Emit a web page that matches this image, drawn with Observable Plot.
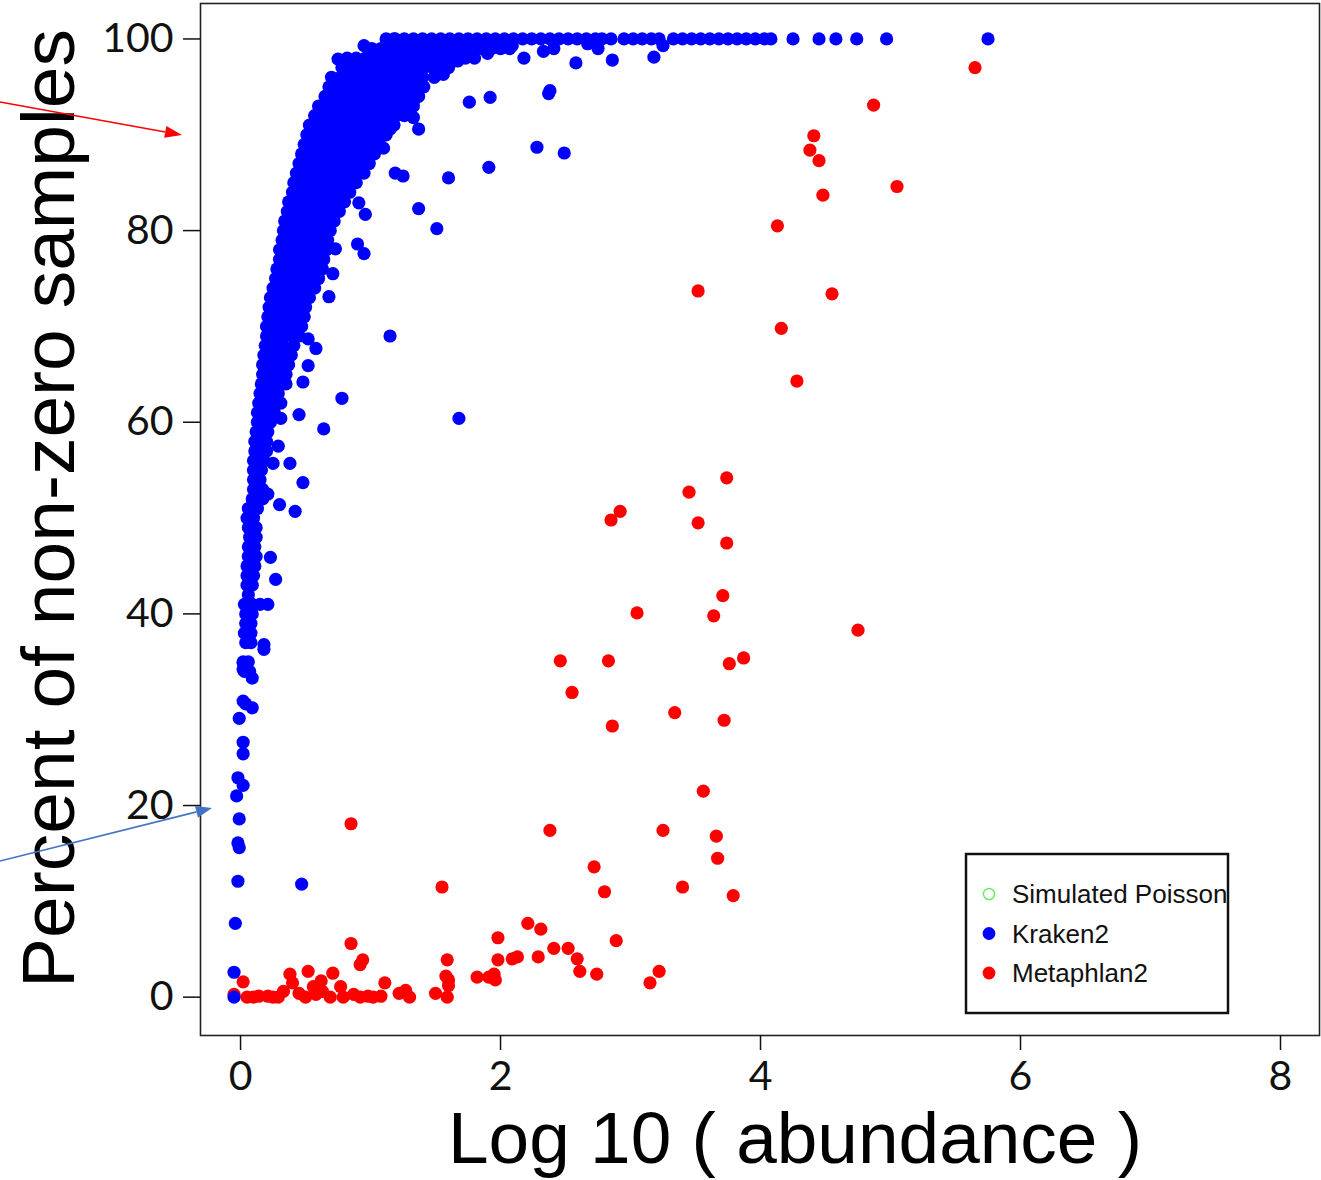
<!DOCTYPE html>
<html><head><meta charset="utf-8">
<script src="https://cdn.jsdelivr.net/npm/d3@7"></script>
<script src="https://cdn.jsdelivr.net/npm/@observablehq/plot@0.6"></script>
<style>
html,body{margin:0;padding:0;background:#fff;}
#wrap{position:relative;width:1321px;height:1180px;overflow:hidden;background:#fff;}
#wrap svg.overlay{position:absolute;left:0;top:0;pointer-events:none;}
</style></head><body><div id="wrap"></div>
<script>
// ---------- chart values ----------
const xTicks = [0, 2, 4, 6, 8];
const yTicks = [0, 20, 40, 60, 80, 100];
const xTitle = "Log 10 ( abundance )";
const yTitle = "Percent of non-zero samples";
const legendLabels = ["Simulated Poisson", "Kraken2", "Metaphlan2"];
const legendColors = ["#66ee66", "#0000ff", "#ff0000"];

// Kraken2: points lying on the 100 % line (x = log10 abundance)
const krakenTopRowX = [1.12,1.19,1.26,1.33,1.4,1.47,1.54,1.61,1.68,1.75,1.82,1.89,1.96,2.03,2.1,2.17,2.24,2.31,2.38,2.45,2.52,2.59,2.66,2.73,2.78,2.85,2.95,3.02,3.09,3.16,3.22,3.33,3.4,3.47,3.54,3.61,3.68,3.75,3.82,3.89,3.96,4.03,4.08,4.25,4.45,4.58,4.74,4.97,5.75];

// Kraken2: dense cloud, read row by row [percent, [log10 abundance ...]]
const krakenRows = [
[99,[1.01,1.08,1.15,1.22,1.29,1.36,1.43,1.5,1.57,1.64,1.71,1.79,1.86,1.93,2.0,2.07]],
[98,[0.82,0.89,0.96,1.03,1.1,1.17,1.24,1.31,1.38,1.45,1.52,1.59,1.66,1.73,1.8]],
[97,[0.78,0.85,0.92,0.99,1.06,1.13,1.2,1.27,1.34,1.41,1.48,1.54,1.6]],
[96,[0.7,0.77,0.84,0.91,0.98,1.05,1.12,1.19,1.26,1.33,1.4,1.49]],
[95,[0.68,0.75,0.82,0.89,0.96,1.03,1.1,1.17,1.24,1.31,1.36,1.41]],
[94,[0.65,0.72,0.79,0.86,0.93,1.0,1.07,1.14,1.21,1.28,1.33,1.37]],
[93,[0.6,0.67,0.74,0.81,0.88,0.95,1.02,1.09,1.16,1.23,1.28,1.33]],
[92,[0.57,0.64,0.71,0.78,0.85,0.92,0.99,1.06,1.13,1.2,1.26]],
[91,[0.53,0.6,0.67,0.74,0.81,0.88,0.95,1.02,1.09,1.14,1.18]],
[90,[0.51,0.58,0.65,0.72,0.79,0.86,0.93,1.0,1.06,1.12]],
[89,[0.49,0.56,0.63,0.7,0.77,0.84,0.91,0.97,1.02,1.07]],
[88,[0.47,0.54,0.61,0.68,0.75,0.82,0.89,0.96,1.03]],
[87,[0.45,0.52,0.59,0.66,0.73,0.8,0.87,0.93,0.99]],
[86,[0.43,0.5,0.57,0.64,0.71,0.78,0.85,0.91,0.95]],
[85,[0.41,0.48,0.55,0.62,0.69,0.76,0.83,0.89]],
[84,[0.4,0.47,0.54,0.61,0.68,0.75,0.8,0.84]],
[83,[0.37,0.44,0.51,0.58,0.65,0.72,0.8]],
[82,[0.36,0.43,0.5,0.57,0.64,0.7,0.76]],
[81,[0.34,0.41,0.48,0.55,0.62,0.67,0.72]],
[80,[0.33,0.4,0.47,0.54,0.61,0.69]],
[79,[0.32,0.39,0.46,0.53,0.6,0.67]],
[78,[0.3,0.37,0.44,0.51,0.58,0.66]],
[77,[0.3,0.37,0.44,0.51,0.58,0.64]],
[76,[0.28,0.35,0.42,0.49,0.56,0.63]],
[75,[0.27,0.34,0.41,0.48,0.54,0.6]],
[74,[0.25,0.32,0.39,0.46,0.52,0.57]],
[73,[0.23,0.3,0.37,0.44,0.49,0.53]],
[72,[0.22,0.29,0.36,0.43,0.5]],
[71,[0.21,0.28,0.35,0.42,0.49]],
[70,[0.2,0.27,0.34,0.41,0.47]],
[69,[0.2,0.27,0.34,0.4,0.45]],
[68,[0.19,0.26,0.33,0.41]],
[67,[0.18,0.25,0.32,0.39]],
[66,[0.17,0.24,0.31,0.37]],
[65,[0.17,0.24,0.3,0.35]],
[64,[0.16,0.22,0.27,0.32]],
[63,[0.15,0.22,0.29]],
[62,[0.14,0.2,0.27]],
[61,[0.13,0.19,0.26]],
[60,[0.13,0.18,0.23]],
[59,[0.12,0.17,0.21]],
[58,[0.11,0.16,0.2]],
[57,[0.11,0.16,0.2]],
[56,[0.1,0.14,0.18]],
[55,[0.1,0.16]],
[54,[0.1,0.15]],
[53,[0.1,0.14,0.17]],
[52,[0.09,0.13,0.17]],
[51,[0.06,0.11,0.13]],
[50,[0.05,0.1]],
[49,[0.06,0.12]],
[48,[0.07,0.12]],
[47,[0.06,0.11]],
[46,[0.06,0.12]],
[45,[0.05,0.11]],
[44,[0.05,0.1]],
[43,[0.05,0.09]],
[42,[0.06]],
[41,[0.03,0.09,0.15]],
[40,[0.04,0.09]],
[39,[0.04,0.08]],
[38,[0.03,0.08]],
[37,[0.04,0.08]],
[35,[0.02,0.06]],
[34,[0.03,0.07]]
];

// Kraken2: scattered points [log10 abundance, percent]
const krakenScatter = [
[0.75,97.9],[0.95,99.3],[1.18,100],[2.09,99.3],[2.18,98.0],[2.33,98.7],[2.41,99.0],[2.58,97.5],[2.75,99.0],[2.86,97.8],[3.18,98.1],[3.25,99.3],[2.67,99.5],[1.9,98.5],[1.67,97.7],[1.56,96.3],[1.36,94.9],[2.38,94.6],[2.37,94.3],[2.28,88.7],[2.49,88.1],[1.76,93.4],[1.92,93.9],[1.33,93.5],[1.37,90.6],[1.33,91.8],[1.15,90.6],[1.1,88.6],[1.19,86.0],[1.25,85.7],[1.6,85.5],[1.91,86.6],[0.91,82.9],[0.96,81.7],[1.37,82.3],[1.51,80.2],[0.9,78.6],[0.95,77.6],[0.71,75.5],[0.73,78.1],[0.68,73.1],[0.55,74.2],[1.15,69.0],[0.52,68.7],[0.58,67.7],[0.78,62.5],[0.64,59.3],[0.45,60.8],[0.38,55.7],[0.48,53.7],[0.3,51.4],[0.42,50.7],[0.23,45.9],[0.27,43.6],[0.21,41.0],[0.18,36.8],[0.18,36.3],[0.48,64.2],[0.52,65.9],[0.35,64.0],[0.31,62.0],[0.31,60.4],[0.25,55.7],[0.21,52.5],[0.29,57.5],[1.68,60.4],[0.47,11.8],[0.02,34.9],[0.02,34.2],[0.09,33.3],[0.02,30.9],[0.04,30.6],[0.09,30.2],[-0.01,29.1],[0.02,26.6],[0.02,25.4],[-0.02,22.9],[0.02,22.1],[-0.03,21.0],[-0.01,18.6],[-0.02,16.1],[-0.01,15.6],[-0.02,12.1],[-0.04,7.7],[-0.05,2.6],[-0.05,0]
];

// Metaphlan2 points [log10 abundance, percent]
const metaphlan = [
[5.65,97.0],[4.87,93.1],[4.41,89.9],[4.38,88.4],[4.45,87.3],[4.48,83.7],[5.05,84.6],[4.13,80.5],[3.52,73.7],[4.55,73.4],[4.16,69.8],[4.28,64.3],[3.74,54.2],[3.45,52.7],[2.92,50.7],[2.85,49.8],[3.52,49.5],[3.74,47.4],[3.71,41.9],[3.05,40.1],[3.64,39.8],[4.75,38.3],[3.87,35.4],[3.76,34.8],[2.46,35.1],[2.83,35.1],[2.55,31.8],[3.34,29.7],[2.86,28.3],[3.72,28.9],[3.56,21.5],[0.85,18.1],[2.38,17.4],[3.25,17.4],[3.66,16.8],[2.72,13.6],[3.67,14.5],[1.55,11.5],[3.4,11.5],[2.8,11.0],[3.79,10.6],[2.21,7.7],[2.31,7.1],[1.98,6.2],[2.89,5.9],[0.85,5.6],[2.41,5.1],[2.52,5.1],[1.59,3.9],[1.98,3.9],[2.09,4.0],[2.13,4.2],[2.29,4.2],[2.59,4.0],[0.94,3.9],[0.92,3.4],[2.61,2.7],[2.74,2.4],[3.22,2.7],[3.15,1.5],[1.82,2.1],[1.91,2.1],[1.95,2.4],[1.96,1.8],[1.58,2.2],[1.6,1.8],[1.6,1.2],[1.59,0],[1.5,0.4],[1.11,1.5],[1.08,0.1],[1.22,0.4],[1.27,0.7],[1.3,0],[0.02,1.6],[-0.05,0.3],[0.05,0],[0.1,0],[0.14,0.1],[0.21,0.1],[0.25,0],[0.29,0],[0.33,0.6],[0.38,2.4],[0.4,1.5],[0.45,0.4],[0.5,0],[0.52,2.7],[0.56,1.1],[0.58,0.3],[0.62,1.7],[0.63,0.6],[0.71,2.5],[0.69,0],[0.77,1.1],[0.79,0],[0.87,0.3],[0.92,0],[0.98,0.1],[1.02,0]
];

// ---------- build tables ----------
const kraken = [
  ...krakenTopRowX.map(x => ({x, y: 100})),
  ...krakenRows.flatMap(([y, xs]) => xs.map(x => ({x, y}))),
  ...krakenScatter.map(([x, y]) => ({x, y}))
];
const meta = metaphlan.map(([x, y]) => ({x, y}));

const tickFont = "Lato, 'Open Sans', sans-serif";
const titleFont = "'Liberation Sans', Arial, sans-serif";

const chart = Plot.plot({
  width: 1321,
  height: 1180,
  marginLeft: 200,
  marginRight: 2,
  marginTop: 3,
  marginBottom: 145,
  style: {background: "white", fontFamily: tickFont, overflow: "visible"},
  x: {domain: [-0.308, 8.3], label: null},
  y: {domain: [-4, 103.7], label: null},
  marks: [
    Plot.dot(meta, {x: "x", y: "y", r: 6.6, fill: "#ff0000"}),
    Plot.dot(kraken, {x: "x", y: "y", r: 6.6, fill: "#0000ff"}),
    Plot.frame({stroke: "#222", strokeWidth: 1.6}),
    Plot.axisX(xTicks, {anchor: "bottom", tickSize: 15, tickPadding: 10, fontSize: 41, fontFamily: tickFont, color: "#111", strokeWidth: 1.5, tickFormat: d => String(d), label: null}),
    Plot.axisY(yTicks, {anchor: "left", tickSize: 17, tickPadding: 10, fontSize: 41, fontFamily: tickFont, color: "#111", strokeWidth: 1.5, tickFormat: d => String(d), label: null}),
    Plot.text([xTitle], {text: d => d, frameAnchor: "bottom", textAnchor: "middle", lineAnchor: "bottom", dx: 35, dy: 127, fontSize: 73, fontFamily: titleFont, fill: "#000"}),
    Plot.text([yTitle], {text: d => d, frameAnchor: "left", textAnchor: "middle", lineAnchor: "bottom", rotate: -90, dx: -127, dy: -11, fontSize: 75, fontFamily: titleFont, fill: "#000"})
  ]
});
document.getElementById("wrap").appendChild(chart);

// ---------- legend and annotation arrows (overlay) ----------
const ov = d3.select("#wrap").append("svg")
  .attr("class", "overlay").attr("width", 1321).attr("height", 1180);

const box = {x: 966, y: 854, w: 262, h: 159};
ov.append("clipPath").attr("id", "lgclip").append("rect")
  .attr("x", box.x).attr("y", box.y).attr("width", box.w).attr("height", box.h);
ov.append("rect").attr("x", box.x).attr("y", box.y).attr("width", box.w).attr("height", box.h)
  .attr("fill", "white").attr("stroke", "#111").attr("stroke-width", 2.5);
const lg = ov.append("g").attr("clip-path", "url(#lgclip)");
legendLabels.forEach((lab, i) => {
  const cy = box.y + 40 + i * 39.5;
  if (i === 0) {
    lg.append("circle").attr("cx", box.x + 23).attr("cy", cy).attr("r", 5.6)
      .attr("fill", "none").attr("stroke", legendColors[i]).attr("stroke-width", 1.5);
  } else {
    lg.append("circle").attr("cx", box.x + 23).attr("cy", cy).attr("r", 6.4).attr("fill", legendColors[i]);
  }
  lg.append("text").attr("x", box.x + 46).attr("y", cy).attr("dy", "0.35em")
    .attr("font-family", titleFont).attr("font-size", 26).attr("fill", "#111").text(lab);
});

function arrow(x1, y1, x2, y2, color, len, half) {
  const dx = x2 - x1, dy = y2 - y1, d = Math.hypot(dx, dy);
  const ux = dx / d, uy = dy / d;
  const bx = x2 - ux * len, by = y2 - uy * len;
  ov.append("line").attr("x1", x1).attr("y1", y1).attr("x2", bx).attr("y2", by)
    .attr("stroke", color).attr("stroke-width", 1.6);
  ov.append("polygon").attr("fill", color).attr("points",
    `${x2},${y2} ${bx - uy * half},${by + ux * half} ${bx + uy * half},${by - ux * half}`);
}
arrow(0, 102, 182, 135, "#ff0000", 17, 6);
arrow(0, 861, 212, 808, "#4472c4", 16, 6);
</script></body></html>
